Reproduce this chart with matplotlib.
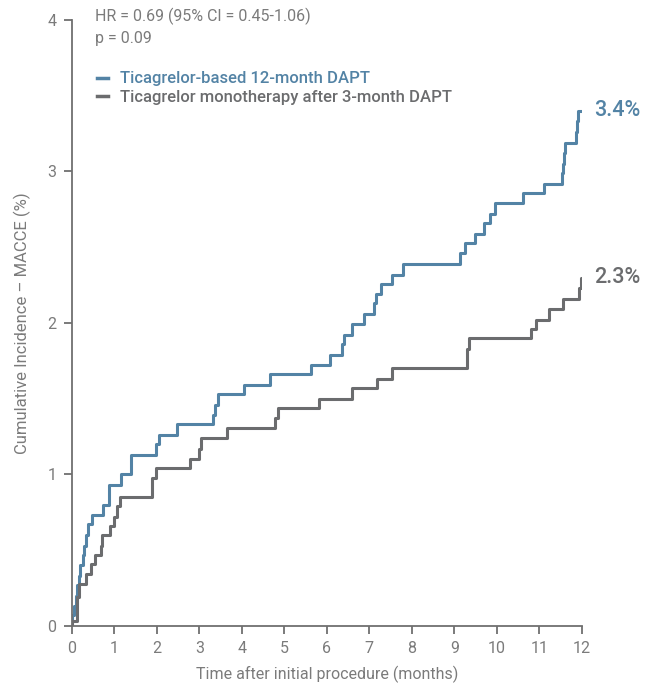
import matplotlib.pyplot as plt

plt.rcParams['font.family'] = ['Roboto', 'DejaVu Sans']

# cumulative incidence (months, %)
dapt_months = [0, 0.01, 0.06, 0.10, 0.13, 0.17, 0.20, 0.26, 0.29, 0.33, 0.37, 0.48,
               0.74, 0.88, 1.15, 1.40, 1.98, 2.06, 2.47, 3.32, 3.38, 3.44, 4.05,
               4.66, 5.63, 6.08, 6.36, 6.40, 6.60, 6.87, 7.11, 7.16, 7.28, 7.53,
               7.80, 9.14, 9.25, 9.49, 9.69, 9.83, 9.95, 10.62, 11.12, 11.53,
               11.55, 11.57, 11.60, 11.86, 11.88, 11.90, 12.0]
dapt_inc = [0, 0.07, 0.13, 0.20, 0.27, 0.33, 0.40, 0.47, 0.53, 0.60, 0.67, 0.73,
            0.80, 0.93, 1.00, 1.13, 1.20, 1.26, 1.33, 1.39, 1.46, 1.53, 1.59,
            1.66, 1.72, 1.79, 1.86, 1.92, 1.99, 2.06, 2.13, 2.19, 2.26, 2.32,
            2.39, 2.46, 2.53, 2.59, 2.66, 2.72, 2.79, 2.86, 2.92, 2.99,
            3.05, 3.12, 3.19, 3.26, 3.33, 3.40, 3.40]

mono_months = [0, 0.01, 0.11, 0.13, 0.18, 0.34, 0.44, 0.54, 0.68, 0.72, 0.89, 0.99,
               1.07, 1.13, 1.88, 1.98, 2.79, 2.99, 3.05, 3.65, 4.78, 4.84, 5.81,
               6.60, 7.19, 7.54, 9.30, 9.34, 10.81, 10.93, 11.22, 11.56, 11.94,
               11.98, 12.0]
mono_inc = [0, 0.03, 0.10, 0.19, 0.28, 0.34, 0.41, 0.47, 0.53, 0.60, 0.66, 0.72,
            0.79, 0.85, 0.98, 1.04, 1.10, 1.17, 1.24, 1.31, 1.37, 1.44, 1.50,
            1.57, 1.63, 1.70, 1.83, 1.90, 1.96, 2.02, 2.09, 2.16, 2.23,
            2.30, 2.30]

blue = "#5383a5"
grey = "#6b6c6e"
text_grey = "#7b7b7b"
axis_grey = "#6f6f6f"

fig = plt.figure(figsize=(6.53, 6.84), dpi=100)
ax = fig.add_axes([0.110, 0.0848, 0.781, 0.886])

ax.step(dapt_months, dapt_inc, where="post", color=blue, lw=2.2,
        label="Ticagrelor-based 12-month DAPT")
ax.step(mono_months, mono_inc, where="post", color=grey, lw=2.2,
        label="Ticagrelor monotherapy after 3-month DAPT")

ax.set_xlim(0, 12)
ax.set_ylim(0, 4)
ax.set_xticks(range(13))
ax.set_yticks(range(5))
for side in ["top", "right"]:
    ax.spines[side].set_visible(False)
for side in ["left", "bottom"]:
    ax.spines[side].set_color(axis_grey)
    ax.spines[side].set_linewidth(1.3)
ax.tick_params(colors=axis_grey, labelcolor=text_grey, labelsize=11.5,
               length=6, width=1.3, pad=5)

ax.set_xlabel("Time after initial procedure (months)", color=text_grey,
              fontsize=11.5, labelpad=7)
ax.set_ylabel("Cumulative Incidence – MACCE (%)", color=text_grey,
              fontsize=12, labelpad=12)

ax.text(0.045, 1.02, "HR = 0.69 (95% CI = 0.45-1.06)\np = 0.09",
        transform=ax.transAxes, color=text_grey, fontsize=11.5,
        va="top", ha="left", linespacing=1.45)

leg = ax.legend(loc="upper left", bbox_to_anchor=(0.02, 0.94), frameon=False,
                handlelength=0.65, handletextpad=0.75, labelspacing=0.2,
                prop={"size": 12, "weight": "medium"})
for line, txt in zip(leg.get_lines(), leg.get_texts()):
    line.set_linewidth(2.5)
    txt.set_color(line.get_color())

ax.annotate("3.4%", xy=(12, dapt_inc[-1]), xytext=(9, 0), textcoords="offset points",
            color=blue, fontsize=15.5, weight="medium", va="center", ha="left",
            annotation_clip=False)
ax.annotate("2.3%", xy=(12, mono_inc[-1]), xytext=(9, 0), textcoords="offset points",
            color=grey, fontsize=15.5, weight="medium", va="center", ha="left",
            annotation_clip=False)

fig.savefig("out.png", dpi=100)
